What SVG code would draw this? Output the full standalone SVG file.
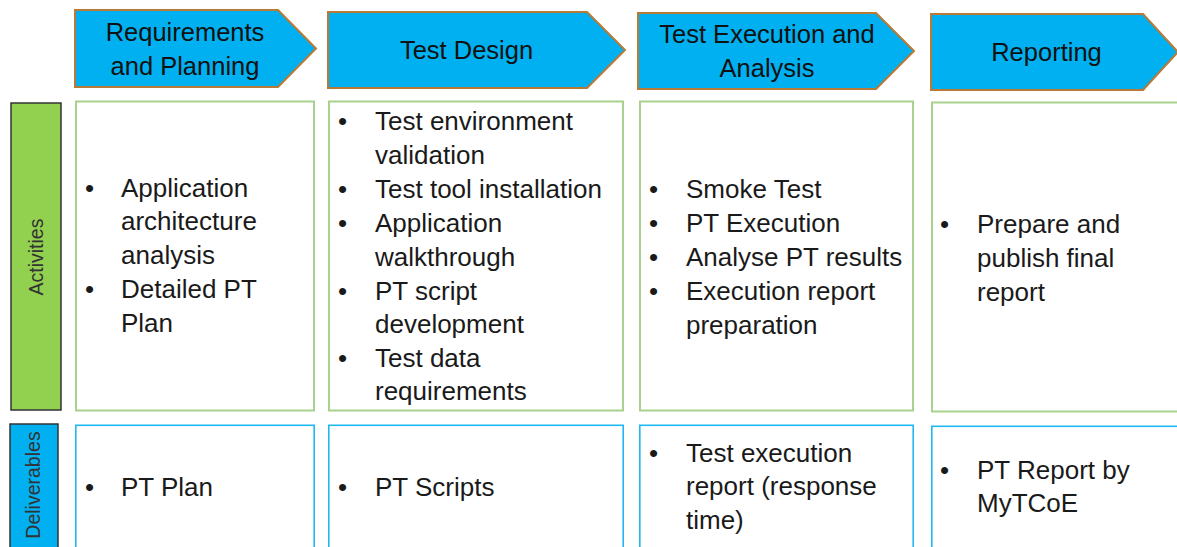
<svg xmlns="http://www.w3.org/2000/svg" width="1177" height="547" viewBox="0 0 1177 547">
<style>
.chev{fill:#00B0F0;stroke:#B97A35;stroke-width:2;stroke-linejoin:miter}
.hd{font-family:"Liberation Sans",Arial,sans-serif;font-size:25.5px;fill:#111;text-anchor:middle}
.act{fill:#fff;stroke:#A9D18E;stroke-width:2}
.del{fill:#fff;stroke:#1FB8F0;stroke-width:1.6}
.t{font-family:"Liberation Sans",Arial,sans-serif;font-size:26px;fill:#1a1a1a}
.lbl{font-family:"Liberation Sans",Arial,sans-serif;font-size:19.5px;fill:#333;text-anchor:middle}
</style>
<rect width="1177" height="547" fill="#fff"/>
<g id="header-requirements">
<polygon class="chev" points="75,10 278,10 316,48.5 278,87 75,87"/>
<text class="hd" x="185" y="41">Requirements</text>
<text class="hd" x="185" y="75">and Planning</text>
</g>
<g id="header-design">
<polygon class="chev" points="328,12 587,12 625,50 587,88 328,88"/>
<text class="hd" x="466.5" y="59">Test Design</text>
</g>
<g id="header-execution">
<polygon class="chev" points="638,13 876,13 914,51 876,89 638,89"/>
<text class="hd" x="767" y="43">Test Execution and</text>
<text class="hd" x="767" y="77">Analysis</text>
</g>
<g id="header-reporting">
<polygon class="chev" points="931,14 1143,14 1178,52 1143,90 931,90"/>
<text class="hd" x="1046.5" y="61">Reporting</text>
</g>
<g id="label-activities">
<rect x="11" y="103" width="50" height="307" fill="#92D050" stroke="#333" stroke-width="1.5"/>
<text class="lbl" x="43" y="257" transform="rotate(-90 43 257)">Activities</text>
</g>
<g id="label-deliverables">
<rect x="10" y="424" width="48" height="140" fill="#00B0F0" stroke="#333" stroke-width="1.5"/>
<text class="lbl" x="40" y="485" transform="rotate(-90 40 485)">Deliverables</text>
</g>
<g id="activities-requirements">
<rect class="act" x="76" y="101.5" width="238" height="309"/>
<text class="t"><tspan x="85" y="197">•</tspan><tspan x="121" y="197">Application</tspan><tspan x="121" y="230">architecture</tspan><tspan x="121" y="264">analysis</tspan><tspan x="85" y="298">•</tspan><tspan x="121" y="298">Detailed PT</tspan><tspan x="121" y="332">Plan</tspan></text>
</g>
<g id="activities-design">
<rect class="act" x="329" y="101.5" width="294" height="309"/>
<text class="t"><tspan x="338" y="130">•</tspan><tspan x="375" y="130">Test environment</tspan><tspan x="375" y="164">validation</tspan><tspan x="338" y="198">•</tspan><tspan x="375" y="198">Test tool installation</tspan><tspan x="338" y="232">•</tspan><tspan x="375" y="232">Application</tspan><tspan x="375" y="266">walkthrough</tspan><tspan x="338" y="300">•</tspan><tspan x="375" y="300">PT script</tspan><tspan x="375" y="333">development</tspan><tspan x="338" y="367">•</tspan><tspan x="375" y="367">Test data</tspan><tspan x="375" y="400">requirements</tspan></text>
</g>
<g id="activities-execution">
<rect class="act" x="640" y="101.5" width="273" height="309"/>
<text class="t"><tspan x="649" y="198">•</tspan><tspan x="686" y="198">Smoke Test</tspan><tspan x="649" y="232">•</tspan><tspan x="686" y="232">PT Execution</tspan><tspan x="649" y="266">•</tspan><tspan x="686" y="266">Analyse PT results</tspan><tspan x="649" y="300">•</tspan><tspan x="686" y="300">Execution report</tspan><tspan x="686" y="334">preparation</tspan></text>
</g>
<g id="activities-reporting">
<rect class="act" x="932" y="102.5" width="260" height="309"/>
<text class="t"><tspan x="940" y="233">•</tspan><tspan x="977" y="233">Prepare and</tspan><tspan x="977" y="267">publish final</tspan><tspan x="977" y="301">report</tspan></text>
</g>
<g id="deliverables-requirements">
<rect class="del" x="75.8" y="425.3" width="238.4" height="140"/>
<text class="t"><tspan x="85" y="496">•</tspan><tspan x="121" y="496">PT Plan</tspan></text>
</g>
<g id="deliverables-design">
<rect class="del" x="328.8" y="425.3" width="294.4" height="140"/>
<text class="t"><tspan x="338" y="496">•</tspan><tspan x="375" y="496">PT Scripts</tspan></text>
</g>
<g id="deliverables-execution">
<rect class="del" x="639.8" y="425.3" width="273.4" height="140"/>
<text class="t"><tspan x="649" y="462">•</tspan><tspan x="686" y="462">Test execution</tspan><tspan x="686" y="495">report (response</tspan><tspan x="686" y="529">time)</tspan></text>
</g>
<g id="deliverables-reporting">
<rect class="del" x="931.8" y="426.3" width="260" height="140"/>
<text class="t"><tspan x="940" y="479">•</tspan><tspan x="977" y="479">PT Report by</tspan><tspan x="977" y="512">MyTCoE</tspan></text>
</g>
<g id="connectors"/>
</svg>
